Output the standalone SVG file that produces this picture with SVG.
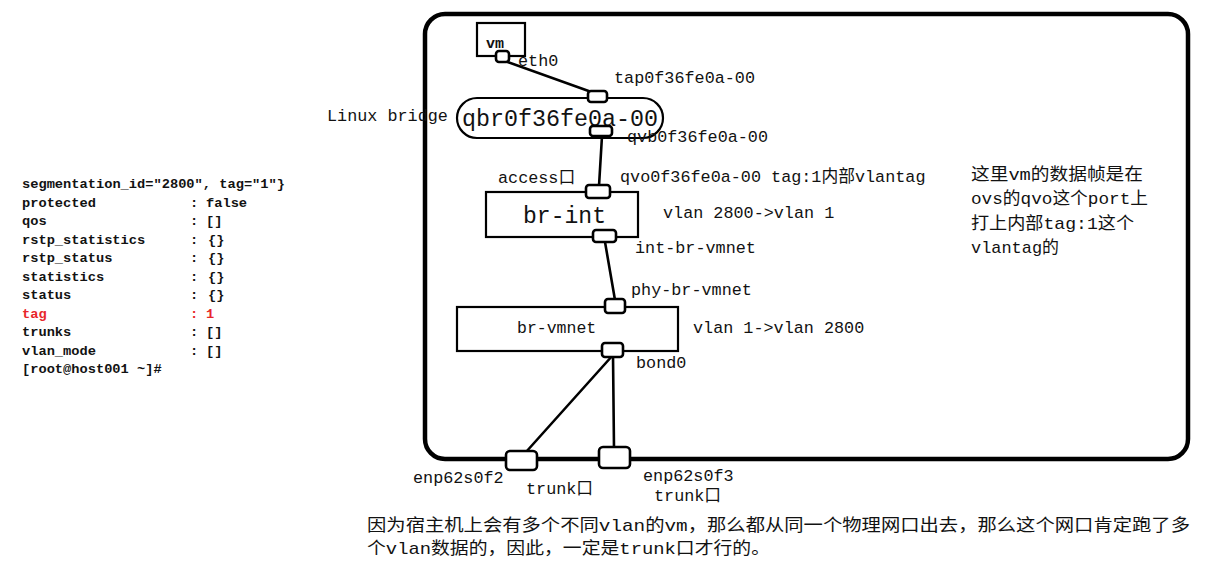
<svg xmlns="http://www.w3.org/2000/svg" width="1205" height="572" viewBox="0 0 1205 572">
<style>
text{font-family:"Liberation Mono","Noto Sans CJK SC",monospace;fill:#121212}
.lbl{font-size:16.8px}
.code{font-size:13.7px;font-weight:bold}
.cn{font-family:"Liberation Mono","Noto Sans CJK SC",sans-serif;font-size:17px}
.box{fill:#fff;stroke:#000;stroke-width:2.2}
.port{fill:#fff;stroke:#000;stroke-width:2.6}
.wire{stroke:#000;stroke-width:2.6;fill:none;stroke-linecap:round}
.red{fill:#e8262a}
</style>
<rect width="1205" height="572" fill="#fff"/>

<g id="code-output">
<text class="code" x="22" y="188" textLength="263" lengthAdjust="spacingAndGlyphs">segmentation_id="2800", tag="1"}</text>
<text class="code" y="206.5"><tspan x="22">protected</tspan><tspan x="190">:</tspan><tspan x="206">false</tspan></text>
<text class="code" y="225"><tspan x="22">qos</tspan><tspan x="190">:</tspan><tspan x="206">[]</tspan></text>
<text class="code" y="243.5"><tspan x="22">rstp_statistics</tspan><tspan x="190">:</tspan><tspan x="208">{}</tspan></text>
<text class="code" y="262"><tspan x="22">rstp_status</tspan><tspan x="190">:</tspan><tspan x="208">{}</tspan></text>
<text class="code" y="280.5"><tspan x="22">statistics</tspan><tspan x="190">:</tspan><tspan x="208">{}</tspan></text>
<text class="code" y="299"><tspan x="22">status</tspan><tspan x="190">:</tspan><tspan x="208">{}</tspan></text>
<text class="code red" y="317.5"><tspan x="22">tag</tspan><tspan x="190">:</tspan><tspan x="206">1</tspan></text>
<text class="code" y="336"><tspan x="22">trunks</tspan><tspan x="190">:</tspan><tspan x="206">[]</tspan></text>
<text class="code" y="354.5"><tspan x="22">vlan_mode</tspan><tspan x="190">:</tspan><tspan x="206">[]</tspan></text>
<text class="code" x="22" y="373">[root@host001 ~]#</text>
</g>

<g id="host">
<rect x="425" y="14" width="763" height="445" rx="20" fill="none" stroke="#000" stroke-width="4.5"/>
</g>

<g id="connectors">
<line class="wire" x1="502" y1="60" x2="597" y2="94"/>
<line class="wire" x1="602" y1="136" x2="599" y2="186"/>
<line class="wire" x1="605" y1="242" x2="615" y2="300"/>
<line class="wire" x1="613" y1="355" x2="526" y2="452"/>
<line class="wire" x1="613" y1="355" x2="614" y2="449"/>
</g>

<g id="vm">
<rect class="box" x="477" y="23" width="48" height="33"/>
<text x="486" y="48" style="font-size:15px;font-weight:bold">vm</text>
<rect class="port" x="496" y="51" width="13" height="11" rx="3"/>
<text class="lbl" x="518" y="66">eth0</text>
</g>

<g id="linux-bridge">
<rect class="box" x="457" y="98" width="206" height="40" rx="20"/>
<text x="462" y="126" style="font-size:23px" textLength="196" lengthAdjust="spacingAndGlyphs">qbr0f36fe0a-00</text>
<text class="lbl" x="327" y="121">Linux bridge</text>
<rect class="port" x="588" y="91" width="19" height="11" rx="3"/>
<text class="lbl" x="614" y="83">tap0f36fe0a-00</text>
<rect class="port" x="590" y="126" width="22" height="10" rx="3"/>
<text class="lbl" x="627" y="142">qvb0f36fe0a-00</text>
</g>

<g id="br-int">
<rect class="box" x="486" y="192" width="152" height="45" stroke-width="2.6"/>
<text x="523" y="223" style="font-size:24px" textLength="83" lengthAdjust="spacingAndGlyphs">br-int</text>
<rect class="port" x="586" y="185" width="24" height="13" rx="3"/>
<text class="lbl" x="498" y="183">access口</text>
<text class="lbl" x="620" y="182">qvo0f36fe0a-00 tag:1内部vlantag</text>
<text class="lbl" x="663" y="218">vlan 2800-&gt;vlan 1</text>
<rect class="port" x="593" y="230" width="23" height="12" rx="3"/>
<text class="lbl" x="635" y="253">int-br-vmnet</text>
</g>

<g id="br-vmnet">
<rect class="box" x="457" y="307" width="221" height="44"/>
<text x="517" y="333" style="font-size:16.5px">br-vmnet</text>
<rect class="port" x="605" y="299" width="20" height="14" rx="3"/>
<text class="lbl" x="631" y="295">phy-br-vmnet</text>
<text class="lbl" x="693" y="333">vlan 1-&gt;vlan 2800</text>
<rect class="port" x="602" y="343" width="21" height="14" rx="3"/>
<text class="lbl" x="636" y="368">bond0</text>
</g>

<g id="enp62s0f2">
<rect class="port" x="506" y="451" width="31" height="19" rx="4"/>
<text class="lbl" x="413" y="483">enp62s0f2</text>
<text class="lbl" x="526" y="494">trunk口</text>
</g>

<g id="enp62s0f3">
<rect class="port" x="599" y="447" width="31" height="21" rx="4"/>
<text class="lbl" x="643" y="481">enp62s0f3</text>
<text class="lbl" x="654" y="501">trunk口</text>
</g>

<g id="note-right">
<text class="cn" x="971" y="180" textLength="172" lengthAdjust="spacingAndGlyphs">这里vm的数据帧是在</text>
<text class="cn" x="971" y="204" textLength="177" lengthAdjust="spacingAndGlyphs">ovs的qvo这个port上</text>
<text class="cn" x="971" y="229" textLength="163" lengthAdjust="spacingAndGlyphs">打上内部tag:1这个</text>
<text class="cn" x="971" y="253" textLength="88" lengthAdjust="spacingAndGlyphs">vlantag的</text>
</g>

<g id="note-bottom">
<text class="cn" x="367" y="531" textLength="823" lengthAdjust="spacingAndGlyphs">因为宿主机上会有多个不同vlan的vm，那么都从同一个物理网口出去，那么这个网口肯定跑了多</text>
<text class="cn" x="367" y="554" textLength="403" lengthAdjust="spacingAndGlyphs">个vlan数据的，因此，一定是trunk口才行的。</text>
</g>
</svg>
